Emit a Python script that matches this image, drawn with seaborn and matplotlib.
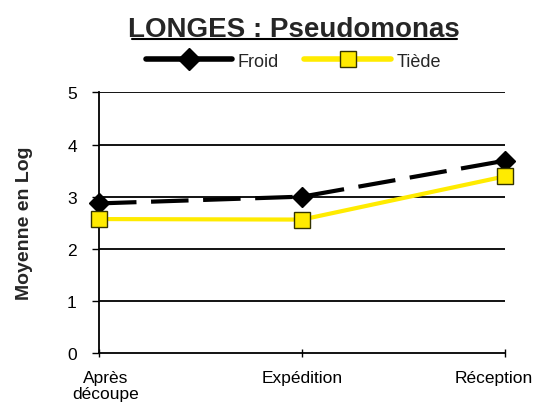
import matplotlib
matplotlib.use("Agg")
import matplotlib.pyplot as plt
import matplotlib.transforms as mtransforms
import seaborn as sns
import pandas as pd
from matplotlib.lines import Line2D

categories = ["Après\ndécoupe", "Expédition", "Réception"]
froid = [2.87, 3.0, 3.69]
tiede = [2.57, 2.56, 3.39]
series_names = ["Froid", "Tiède"]
yticks = [0, 1, 2, 3, 4, 5]

sns.set_style("white")
plt.rcParams['font.family'] = ['Liberation Sans', 'DejaVu Sans']

df = pd.DataFrame({
    "cat": categories * 2,
    "val": froid + tiede,
    "serie": [series_names[0]] * 3 + [series_names[1]] * 3,
})

fig = plt.figure(figsize=(5.38, 4.06), dpi=100)
ax = fig.add_axes([0.184, 0.128, 0.755, 0.642])

colors = {"Froid": "black", "Tiède": "#FFEB00"}
sns.lineplot(data=df, x="cat", y="val", hue="serie", style="serie",
             palette=colors, dashes={"Froid": (9, 3.5), "Tiède": ""},
             markers={"Froid": "D", "Tiède": "s"}, lw=3,
             ax=ax, legend=False, sort=False)
for ln, ms, mec in zip(ax.lines, [10, 11], ["black", "#333300"]):
    ln.set_markersize(ms)
    ln.set_markeredgecolor(mec)
    ln.set_markeredgewidth(1)
    ln.set_clip_on(False)
    ln.set_zorder(5)

ax.set_xlim(0, 2)
ax.set_ylim(0, 5)
ax.set_yticks(yticks)
ax.set_xticks(range(len(categories)))
ax.set_xticklabels(categories, fontsize=12.5, linespacing=1.15)
ax.tick_params(axis="y", labelsize=12.5, direction="out", length=5, width=1, pad=11, colors="black", left=True)
ax.tick_params(axis="x", direction="inout", length=6, width=1, pad=9, colors="black", bottom=True)
offsets_px = [7, 0, -11]
for lab, dx in zip(ax.get_xticklabels(), offsets_px):
    lab.set_transform(lab.get_transform() + mtransforms.ScaledTranslation(dx / 100, 0, fig.dpi_scale_trans))
for y in yticks[1:]:
    ax.axhline(y, color="black", lw=1.3, zorder=0)
for s in ["top", "right"]:
    ax.spines[s].set_visible(False)
for s in ["left", "bottom"]:
    ax.spines[s].set_color("black")
    ax.spines[s].set_linewidth(1.3)
ax.set_xlabel("")
ax.set_ylabel("Moyenne en Log", fontsize=14, fontweight="bold")
ax.yaxis.set_label_coords(-0.163, 0.5)

fig.text(0.547, 0.926, "LONGES : Pseudomonas", ha="center", va="center",
         fontsize=20, fontweight="bold")
fig.add_artist(Line2D([132/538, 457/538], [1-39.5/406, 1-39.5/406], color="black", lw=1.5))

handles = [
    Line2D([], [], color="black", lw=4, marker="D", markersize=11, markeredgecolor="black"),
    Line2D([], [], color="#FFEB00", lw=4, marker="s", markersize=12, markeredgecolor="#333300"),
]
fig.legend(handles, series_names, loc="center", bbox_to_anchor=(0.545, 0.847), ncol=2,
           frameon=False, fontsize=13, handlelength=4.8, handletextpad=0.3, columnspacing=1.4)

fig.savefig("out.png", dpi=100)
